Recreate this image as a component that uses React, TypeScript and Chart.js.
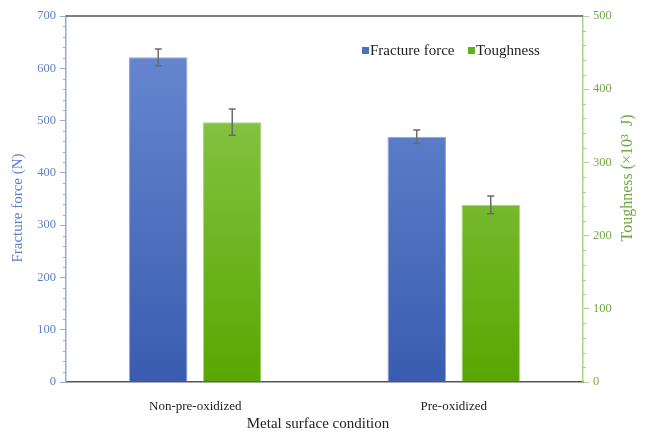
import React, { useEffect, useRef } from "react";
import { Chart, registerables } from "chart.js";

Chart.register(...registerables);

const categories = ["Non-pre-oxidized", "Pre-oxidized"];
const fractureForce = [621, 469];
const fractureForceErr = [16, 13];
const toughness = [355, 242];
const toughnessErr = [18, 12];
const seriesNames = ["Fracture force", "Toughness"];
const leftTitle = "Fracture force (N)";
const rightTitle = "Toughness (\u00d710\u00b3  J)";
const xTitle = "Metal surface condition";

const FONT = "'Liberation Serif', 'Times New Roman', serif";
const BLUE_TEXT = "#5b7fc8";
const GREEN_TEXT = "#6fa944";
const BLUE_AXIS = "#93acdc";
const GREEN_AXIS = "#a9d38c";

const errorBarPlugin = {
  id: "errorBars",
  afterDatasetsDraw(chart: any) {
    const ctx = chart.ctx;
    const errs = [fractureForceErr, toughnessErr];
    chart.data.datasets.forEach((ds: any, i: number) => {
      const meta = chart.getDatasetMeta(i);
      const scale = chart.scales[ds.yAxisID];
      meta.data.forEach((el: any, j: number) => {
        const v = ds.data[j];
        const e = errs[i][j];
        const yHi = scale.getPixelForValue(v + e);
        const yLo = scale.getPixelForValue(v - e);
        const x = el.x;
        ctx.save();
        ctx.strokeStyle = "#6b6b6b";
        ctx.lineWidth = 1.5;
        ctx.beginPath();
        ctx.moveTo(x, yHi);
        ctx.lineTo(x, yLo);
        ctx.moveTo(x - 3.5, yHi);
        ctx.lineTo(x + 3.5, yHi);
        ctx.moveTo(x - 3.5, yLo);
        ctx.lineTo(x + 3.5, yLo);
        ctx.stroke();
        ctx.restore();
      });
    });
  },
};

const decorPlugin = {
  id: "decor",
  afterDraw(chart: any) {
    const ctx = chart.ctx;
    const a = chart.chartArea;
    const yl = chart.scales.y;
    const yr = chart.scales.y1;
    ctx.save();
    // top border
    ctx.strokeStyle = "#555";
    ctx.lineWidth = 1.5;
    ctx.beginPath();
    ctx.moveTo(a.left, a.top);
    ctx.lineTo(a.right, a.top);
    ctx.stroke();
    // minor ticks
    ctx.lineWidth = 1;
    ctx.strokeStyle = BLUE_AXIS;
    for (let v = 0; v <= 700; v += 20) {
      if (v % 100 === 0) continue;
      const y = Math.round(yl.getPixelForValue(v)) + 0.5;
      ctx.beginPath();
      ctx.moveTo(a.left - 3, y);
      ctx.lineTo(a.left, y);
      ctx.stroke();
    }
    ctx.strokeStyle = GREEN_AXIS;
    for (let v = 0; v <= 500; v += 20) {
      if (v % 100 === 0) continue;
      const y = Math.round(yr.getPixelForValue(v)) + 0.5;
      ctx.beginPath();
      ctx.moveTo(a.right, y);
      ctx.lineTo(a.right + 3, y);
      ctx.stroke();
    }
    // axis titles
    ctx.textAlign = "center";
    ctx.textBaseline = "middle";
    ctx.font = `15px ${FONT}`;
    ctx.fillStyle = BLUE_TEXT;
    ctx.save();
    ctx.translate(18, 208);
    ctx.rotate(-Math.PI / 2);
    ctx.fillText(leftTitle, 0, 0);
    ctx.restore();
    ctx.fillStyle = GREEN_TEXT;
    ctx.font = `16px ${FONT}`;
    ctx.save();
    ctx.translate(628, 178);
    ctx.rotate(-Math.PI / 2);
    ctx.fillText(rightTitle, 0, 0);
    ctx.restore();
    ctx.fillStyle = "#222";
    ctx.font = `15px ${FONT}`;
    ctx.fillText(xTitle, 318, 424);
    // legend
    ctx.font = `15px ${FONT}`;
    ctx.textAlign = "left";
    const colors = ["#4a6fc1", "#62b020"];
    const xs = [362, 468];
    seriesNames.forEach((n, i) => {
      ctx.fillStyle = colors[i];
      ctx.fillRect(xs[i], 47, 7, 7);
      ctx.fillStyle = "#222";
      ctx.fillText(n, xs[i] + 8, 51);
    });
    ctx.restore();
  },
};

function grad(ctx: any, top: string, bottom: string) {
  const chart = ctx.chart;
  const a = chart.chartArea;
  if (!a) return bottom;
  const g = chart.ctx.createLinearGradient(0, a.top, 0, a.bottom);
  g.addColorStop(0, top);
  g.addColorStop(1, bottom);
  return g;
}

export default function App() {
  const ref = useRef<HTMLCanvasElement>(null);
  useEffect(() => {
    if (!ref.current) return;
    const chart = new Chart(ref.current, {
      type: "bar",
      data: {
        labels: categories,
        datasets: [
          {
            label: seriesNames[0],
            data: fractureForce,
            yAxisID: "y",
            backgroundColor: (c: any) => grad(c, "#6a8bd2", "#3a5cb0"),
            borderColor: "#8aa5dc",
            borderWidth: 1,
            categoryPercentage: 0.5725,
            barPercentage: 0.79,
          },
          {
            label: seriesNames[1],
            data: toughness,
            yAxisID: "y1",
            backgroundColor: (c: any) => grad(c, "#95cc5c", "#58a700"),
            borderColor: "#a8d67a",
            borderWidth: 1,
            categoryPercentage: 0.5725,
            barPercentage: 0.79,
          },
        ],
      },
      options: {
        responsive: false,
        animation: false,
        devicePixelRatio: 1,
        layout: { padding: { top: 16, left: 0, right: 0, bottom: 0 } },
        plugins: { legend: { display: false }, tooltip: { enabled: false } },
        scales: {
          x: {
            grid: { display: false },
            border: { display: true, color: "#555", width: 1.5 },
            ticks: { font: { family: FONT, size: 13 }, color: "#222", padding: 9 },
            afterFit: (s: any) => {
              s.height = 50;
            },
          },
          y: {
            position: "left",
            min: 0,
            max: 700,
            ticks: { stepSize: 100, font: { family: FONT, size: 12.5 }, color: BLUE_TEXT, padding: 4 },
            grid: { drawOnChartArea: false, tickLength: 6, tickColor: BLUE_AXIS },
            border: { color: BLUE_AXIS, width: 1.5 },
            afterFit: (s: any) => {
              s.width = 66;
            },
          },
          y1: {
            position: "right",
            min: 0,
            max: 500,
            ticks: { stepSize: 100, font: { family: FONT, size: 12.5 }, color: GREEN_TEXT, padding: 4 },
            grid: { drawOnChartArea: false, tickLength: 6, tickColor: GREEN_AXIS },
            border: { color: GREEN_AXIS, width: 1.5 },
            afterFit: (s: any) => {
              s.width = 62;
            },
          },
        },
      },
      plugins: [errorBarPlugin, decorPlugin],
    } as any);
    return () => chart.destroy();
  }, []);
  return (
    <div style={{ position: "fixed", left: 0, top: 0, width: 645, height: 432, background: "#fff" }}>
      <canvas ref={ref} width={645} height={432} />
    </div>
  );
}
